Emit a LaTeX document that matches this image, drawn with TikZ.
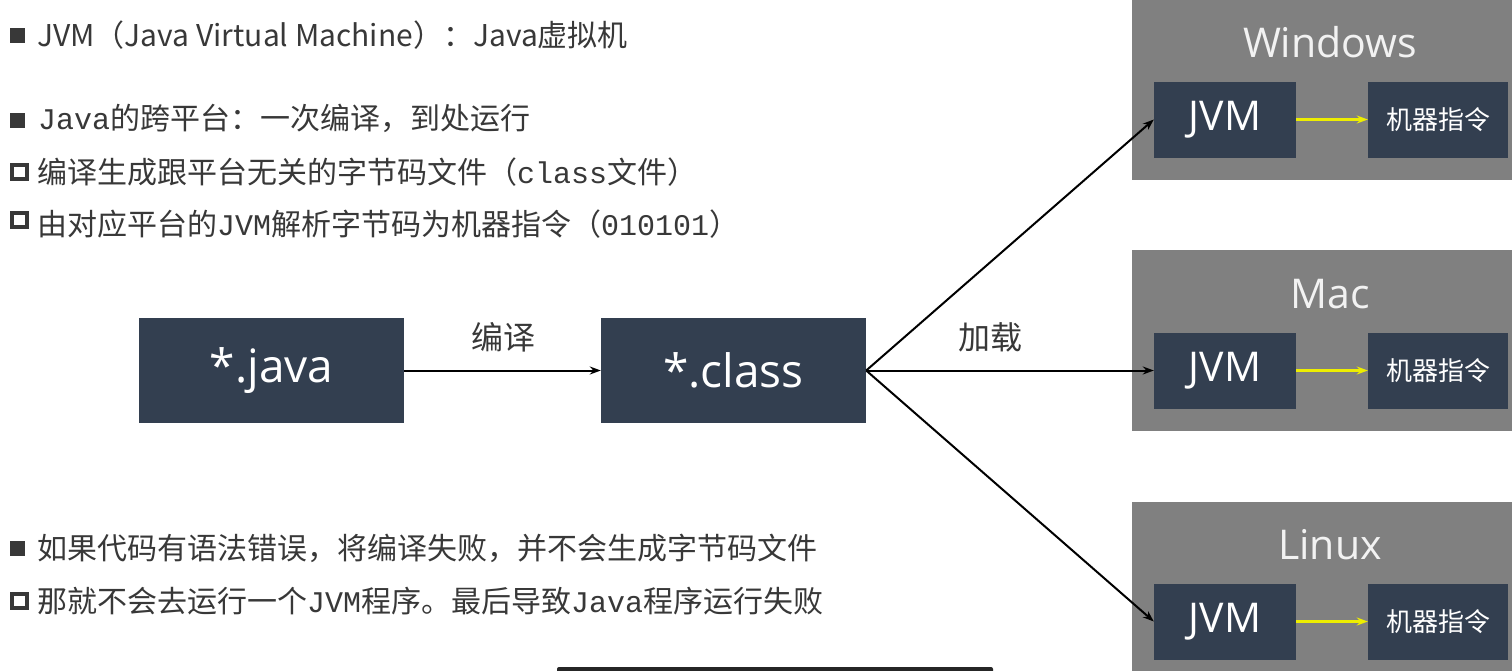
\documentclass[tikz,border=0pt]{standalone}
\usepackage{fontspec}
\setmainfont{Noto Sans CJK SC}
\newfontfamily\cjk{Noto Sans CJK SC}
\newfontfamily\mono{Liberation Mono}
\newfontfamily\seg{Open Sans}
\usetikzlibrary{arrows.meta}
\definecolor{navy}{HTML}{333F50}
\definecolor{panelgray}{HTML}{808080}
\definecolor{txt}{HTML}{383838}
\definecolor{titlec}{HTML}{F2F2F2}
\definecolor{yel}{HTML}{EEEE00}
\tikzset{
  line/.style={txt, anchor=base west, inner sep=0pt, font=\cjk\fontsize{30}{30}\selectfont},
  fullbullet/.style={fill=txt, draw=none, minimum width=15pt, minimum height=15pt, inner sep=0pt},
  openbullet/.style={draw=txt, line width=4pt, minimum width=15pt, minimum height=13.5pt, inner sep=0pt},
  bigbox/.style={fill=navy, draw=none, minimum width=265pt, minimum height=105pt, inner sep=0pt, text=white, font=\seg\fontsize{46}{46}\selectfont},
  panel/.style={fill=panelgray, draw=none},
  ptitle/.style={text=titlec, font=\seg\fontsize{41}{41}\selectfont, inner sep=0pt},
  jvmbox/.style={fill=navy, draw=none, minimum width=142pt, minimum height=76pt, inner sep=0pt, text=white, font=\seg\fontsize{41}{41}\selectfont},
  insbox/.style={fill=navy, draw=none, minimum width=140pt, minimum height=76pt, inner sep=0pt, text=white, font=\cjk\fontsize{26}{26}\selectfont},
  lbl/.style={txt, font=\cjk\fontsize{32}{32}\selectfont, inner sep=0pt},
  blackarrow/.style={draw=black, line width=2pt, -{Stealth[length=11pt,width=8pt]}},
  yelarrow/.style={draw=yel, line width=3pt, -{Stealth[length=11pt,width=8pt]}},
}
\begin{document}
\begin{tikzpicture}[x=1pt,y=-1pt]
\useasboundingbox (0,0) rectangle (1512,670);
\fill[white] (0,0) rectangle (1512,670);

% text lines
\node[fullbullet] (b1) at (17,35) {};
\node[line] (t1) at (37,46) {JVM（Java Virtual Machine）：Java虚拟机};
\node[fullbullet] (b2) at (17,120) {};
\node[line] (t2) at (38,129) {{\mono Java}的跨平台：一次编译，到处运行};
\node[openbullet] (b3) at (19,172) {};
\node[line] (t3) at (37,183) {编译生成跟平台无关的字节码文件（{\mono class}文件）};
\node[openbullet] (b4) at (19,220) {};
\node[line] (t4) at (37,235) {由对应平台的{\mono JVM}解析字节码为机器指令（{\mono 010101}）};
\node[fullbullet] (b5) at (17,548) {};
\node[line] (t5) at (37,559) {如果代码有语法错误，将编译失败，并不会生成字节码文件};
\node[openbullet] (b6) at (19,601) {};
\node[line] (t6) at (37,612) {那就不会去运行一个{\mono JVM}程序。最后导致{\mono Java}程序运行失败};

% main boxes
\node[bigbox] (java) at (271.5,370.5) {*.java};
\node[bigbox] (class) at (733.5,370.5) {*.class};
\node[lbl] (l1) at (503,337) {编译};
\node[lbl] (l2) at (990,337) {加载};

% panels
\fill[panel] (1132,0) rectangle (1512,180);
\fill[panel] (1132,250) rectangle (1512,431);
\fill[panel] (1132,502) rectangle (1512,680);
\node[ptitle] (winT) at (1330,42) {Windows};
\node[ptitle] (macT) at (1330,294) {Mac};
\node[ptitle] (linT) at (1330,545) {Linux};

\node[jvmbox] (jw) at (1225,119.5) {JVM};
\node[insbox] (iw) at (1438,119.5) {机器指令};
\node[jvmbox] (jm) at (1225,370.5) {JVM};
\node[insbox] (im) at (1438,370.5) {机器指令};
\node[jvmbox] (jl) at (1225,621.5) {JVM};
\node[insbox] (il) at (1438,621.5) {机器指令};

% connectors
\draw[blackarrow] (java.east) -- (class.west);
\draw[blackarrow] (class.east) -- (jw.west);
\draw[blackarrow] (class.east) -- (jm.west);
\draw[blackarrow] (class.east) -- (jl.west);
\draw[yelarrow] (jw.east) -- (iw.west);
\draw[yelarrow] (jm.east) -- (im.west);
\draw[yelarrow] (jl.east) -- (il.west);

% bottom dark bar
\fill[black!85, rounded corners=2pt] (557,667) rectangle (993,676);
\end{tikzpicture}
\end{document}
